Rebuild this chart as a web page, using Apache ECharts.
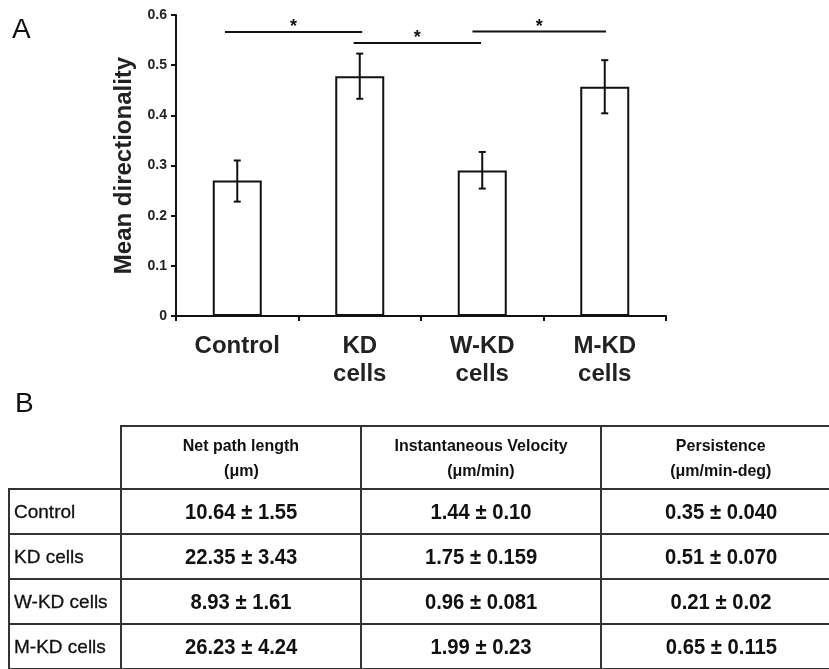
<!DOCTYPE html>
<html>
<head>
<meta charset="utf-8">
<script src="https://cdn.jsdelivr.net/npm/echarts/dist/echarts.min.js"></script>
<style>
  html, body { margin: 0; padding: 0; background: #fff; }
  body { width: 829px; height: 669px; overflow: hidden; position: relative; font-family: "Liberation Sans", Arial, sans-serif; }
  #chart { position: absolute; left: 0; top: 0; width: 829px; height: 669px; }
  #tblWrap { position: absolute; left: 8px; top: 425px; }
  table { border-collapse: collapse; table-layout: fixed; width: 832px; color: #111; }
  td, th { border: 2px solid #333; padding: 0; }
  th { font-size: 17px; font-weight: bold; line-height: 25px; height: 61px; text-align: center; }
  th span { display: inline-block; transform: scaleX(0.94); }
  th.blank { border-top: none; border-left: none; }
  td { height: 43px; font-size: 22px; font-weight: bold; text-align: center; }
  td span { display: inline-block; transform: scaleX(0.92); }
  td.rl { font-size: 19px; font-weight: normal; text-align: left; padding-left: 4px; -webkit-text-stroke: 0.3px #111; }
</style>
</head>
<body>
<div id="chart"></div>
<div id="tblWrap"></div>
<script>
// ---------- Panel A data ----------
const categories = ['Control', 'KD\ncells', 'W-KD\ncells', 'M-KD\ncells'];
const meanDirectionality = [0.270, 0.478, 0.290, 0.457];
const errorLow  = [0.228, 0.433, 0.254, 0.404];
const errorHigh = [0.310, 0.523, 0.327, 0.510];
const yAxisName = 'Mean directionality';
// significance brackets: [start x, end x, y] (x in category index units)
const sigStart = [-0.10, 0.95, 1.92];
const sigEnd   = [1.02, 1.99, 3.01];
const sigLevel = [0.566, 0.544, 0.567];
const sigMark  = ['*', '*', '*'];

// ---------- Panel B data ----------
const rowLabels = ['Control', 'KD cells', 'W-KD cells', 'M-KD cells'];
const headerTitles = ['Net path length', 'Instantaneous Velocity', 'Persistence'];
const headerUnits = ['(\u03bcm)', '(\u03bcm/min)', '(\u03bcm/min-deg)'];
const netPathLength = ['10.64 \u00b1 1.55', '22.35 \u00b1 3.43', '8.93 \u00b1 1.61', '26.23 \u00b1 4.24'];
const instVelocity = ['1.44 \u00b1 0.10', '1.75 \u00b1 0.159', '0.96 \u00b1 0.081', '1.99 \u00b1 0.23'];
const persistence = ['0.35 \u00b1 0.040', '0.51 \u00b1 0.070', '0.21 \u00b1 0.02', '0.65 \u00b1 0.115'];

const FONT = 'Liberation Sans';
const INK = '#111';

const chart = echarts.init(document.getElementById('chart'), null, { renderer: 'canvas' });

const errData = categories.map((c, i) => [i, errorLow[i], errorHigh[i]]);
const sigData = sigStart.map((s, i) => [s, sigEnd[i], sigLevel[i], sigMark[i]]);

const option = {
  animation: false,
  backgroundColor: '#fff',
  title: [
    { text: 'A', left: 12, top: 16, padding: 0, textStyle: { fontSize: 28, fontWeight: 'normal', color: INK, fontFamily: FONT, lineHeight: 28 } },
    { text: 'B', left: 15, top: 390, padding: 0, textStyle: { fontSize: 28, fontWeight: 'normal', color: INK, fontFamily: FONT, lineHeight: 28 } }
  ],
  grid: { left: 176, right: 163, top: 15, bottom: 353, containLabel: false },
  xAxis: [
    {
      type: 'category', data: categories,
      axisLine: { onZero: false, lineStyle: { color: INK, width: 2 } },
      axisTick: { show: true, alignWithLabel: false, length: 5, lineStyle: { color: INK, width: 2 } },
      axisLabel: { fontSize: 24, fontWeight: 'bold', lineHeight: 28, color: '#222', margin: 16, fontFamily: FONT, interval: 0 }
    },
    { type: 'value', min: -0.5, max: 3.5, show: false, axisLine: { onZero: false } }
  ],
  yAxis: {
    type: 'value', min: 0, max: 0.6, interval: 0.1,
    name: yAxisName, nameLocation: 'middle', nameRotate: 90, nameGap: 40,
    nameTextStyle: { fontSize: 24, fontWeight: 'bold', color: '#222', fontFamily: FONT },
    axisLine: { show: true, onZero: false, lineStyle: { color: INK, width: 2 } },
    axisTick: { show: true, length: 5, lineStyle: { color: INK, width: 2 } },
    axisLabel: { fontSize: 14, fontWeight: 'bold', color: '#222', margin: 9, fontFamily: FONT },
    splitLine: { show: false }
  },
  series: [
    {
      type: 'bar', data: meanDirectionality, barWidth: 49, z: 2,
      itemStyle: { color: '#fff', borderColor: INK, borderWidth: 2 }
    },
    {
      type: 'custom', z: 3, data: errData,
      renderItem: function (params, api) {
        const x = api.value(0);
        const lo = api.coord([x, api.value(1)]);
        const hi = api.coord([x, api.value(2)]);
        const cap = 3.5;
        const st = { stroke: INK, lineWidth: 2 };
        return {
          type: 'group', children: [
            { type: 'line', shape: { x1: lo[0], y1: lo[1], x2: hi[0], y2: hi[1] }, style: st },
            { type: 'line', shape: { x1: lo[0] - cap, y1: lo[1], x2: lo[0] + cap, y2: lo[1] }, style: st },
            { type: 'line', shape: { x1: hi[0] - cap, y1: hi[1], x2: hi[0] + cap, y2: hi[1] }, style: st }
          ]
        };
      }
    },
    {
      type: 'custom', z: 3, xAxisIndex: 1, yAxisIndex: 0, data: sigData,
      renderItem: function (params, api) {
        const a = api.coord([api.value(0), api.value(2)]);
        const b = api.coord([api.value(1), api.value(2)]);
        const mark = sigData[params.dataIndex][3];
        return {
          type: 'group', children: [
            { type: 'line', shape: { x1: a[0], y1: a[1], x2: b[0], y2: b[1] }, style: { stroke: INK, lineWidth: 2 } },
            { type: 'text', style: { text: mark, x: (a[0] + b[0]) / 2, y: a[1] - 5, align: 'center', verticalAlign: 'middle', fontSize: 18, fontWeight: 'bold', fontFamily: FONT, fill: INK } }
          ]
        };
      }
    }
  ]
};
chart.setOption(option);

// ---------- Panel B table ----------
const cols = [netPathLength, instVelocity, persistence];
let html = '<table><colgroup><col style="width:112px"><col style="width:240px"><col style="width:240px"><col style="width:240px"></colgroup>';
html += '<tr><th class="blank"></th>';
headerTitles.forEach((t, i) => { html += '<th><span>' + t + '</span><br><span>' + headerUnits[i] + '</span></th>'; });
html += '</tr>';
rowLabels.forEach((r, ri) => {
  html += '<tr><td class="rl">' + r + '</td>';
  cols.forEach(c => { html += '<td><span>' + c[ri] + '</span></td>'; });
  html += '</tr>';
});
html += '</table>';
document.getElementById('tblWrap').innerHTML = html;
</script>
</body>
</html>
